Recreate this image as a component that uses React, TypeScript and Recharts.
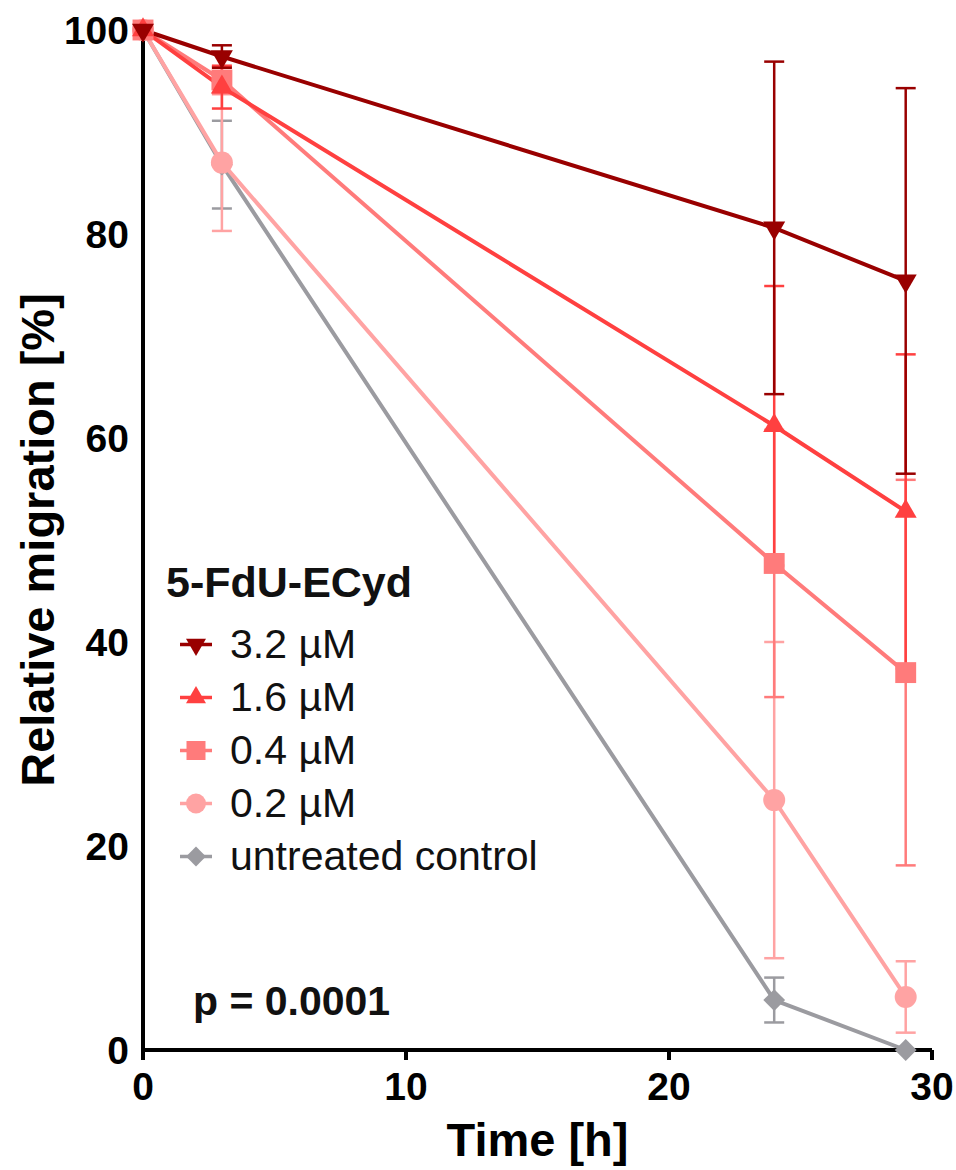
import {
  LineChart,
  Line,
  XAxis,
  YAxis,
  ErrorBar,
  Legend,
  Label,
  Symbols
} from "recharts";

const FONT = "'Liberation Sans', Arial, Helvetica, sans-serif";

// time points (h)
const times = [0, 3, 24, 29];

// relative migration [%] per concentration
const mean32 = [100, 97.4, 80.6, 75.4];
const err32 = [0, 1.1, 16.3, 18.9];

const mean16 = [100, 94.4, 61.2, 52.8];
const err16 = [0, 2.1, 13.7, 15.4];

const mean04 = [100, 95.1, 47.7, 37.0];
const err04 = [0, 1.3, 13.1, 18.9];

const mean02 = [100, 87.0, 24.5, 5.2];
const err02 = [0, 6.7, 15.5, 3.5];

const meanCtrl = [100, 86.8, 4.9, 0];
const errCtrl = [0, 4.3, 2.2, 0];

const xTicks = [0, 10, 20, 30];
const yTicks = [0, 20, 40, 60, 80, 100];

const series = [
  { key: "c32", label: "3.2 µM", color: "#990000", shape: "down", mean: mean32, err: err32 },
  { key: "c16", label: "1.6 µM", color: "#ff4040", shape: "up", mean: mean16, err: err16 },
  { key: "c04", label: "0.4 µM", color: "#ff7b7b", shape: "square", mean: mean04, err: err04 },
  { key: "c02", label: "0.2 µM", color: "#ffa3a3", shape: "circle", mean: mean02, err: err02 },
  { key: "ctrl", label: "untreated control", color: "#9b9ba0", shape: "diamond", mean: meanCtrl, err: errCtrl }
];

const data = times.map((t, i) => {
  const row: any = { t };
  series.forEach((s) => {
    row[s.key] = s.mean[i];
    row[s.key + "Err"] = s.err[i];
  });
  return row;
});

function Marker({ shape, cx, cy, color, size }: any) {
  if (shape === "down") {
    return (
      <g transform={`rotate(180 ${cx} ${cy})`}>
        <Symbols type="triangle" cx={cx} cy={cy} size={size} sizeType="diameter" fill={color} />
      </g>
    );
  }
  if (shape === "up") {
    return <Symbols type="triangle" cx={cx} cy={cy} size={size} sizeType="diameter" fill={color} />;
  }
  if (shape === "square") {
    return <Symbols type="square" cx={cx} cy={cy} size={size * 0.95} sizeType="diameter" fill={color} />;
  }
  if (shape === "diamond") {
    return (
      <g transform={`rotate(45 ${cx} ${cy})`}>
        <Symbols type="square" cx={cx} cy={cy} size={size * 0.7} sizeType="diameter" fill={color} />
      </g>
    );
  }
  return <Symbols type="circle" cx={cx} cy={cy} size={size} sizeType="diameter" fill={color} />;
}

const renderLegend = () => (
  <div style={{ fontFamily: FONT, color: "#111" }}>
    <div style={{ fontSize: 43, fontWeight: 700, lineHeight: "50px", marginBottom: 11 }}>
      5-FdU-ECyd
    </div>
    {series.map((s) => (
      <div key={s.key} style={{ display: "flex", alignItems: "center", height: 53 }}>
        <svg width={64} height={53}>
          <line x1={14} x2={46} y1={26.5} y2={26.5} stroke={s.color} strokeWidth={3.5} />
          <Marker shape={s.shape} cx={30} cy={26.5} color={s.color} size={20} />
        </svg>
        <span style={{ fontSize: 41, lineHeight: "53px" }}>{s.label}</span>
      </div>
    ))}
  </div>
);

export default function App() {
  return (
    <div style={{ position: "absolute", left: 0, top: 0, width: 956, height: 1170, background: "#fff" }}>
      <LineChart
        width={956}
        height={1170}
        data={data}
        margin={{ top: 30, right: 24, left: 0, bottom: 0 }}
      >
        <XAxis
          dataKey="t"
          type="number"
          domain={[0, 30]}
          ticks={xTicks}
          interval={0}
          height={120}
          tickSize={10}
          tickMargin={12}
          axisLine={{ stroke: "#000", strokeWidth: 4 }}
          tickLine={{ stroke: "#000", strokeWidth: 4 }}
          tick={{ fill: "#000", fontSize: 39, fontWeight: 700, fontFamily: FONT }}
        >
          <Label
            content={(p: any) => {
              const vb = p.viewBox;
              return (
                <text
                  x={vb.x + vb.width / 2}
                  y={1156}
                  textAnchor="middle"
                  fontSize={47}
                  fontWeight={700}
                  fontFamily={FONT}
                  fill="#000"
                >
                  Time [h]
                </text>
              );
            }}
          />
        </XAxis>
        <YAxis
          type="number"
          domain={[0, 100]}
          ticks={yTicks}
          interval={0}
          width={143}
          tickSize={0}
          tickMargin={14}
          tickLine={false}
          axisLine={{ stroke: "#000", strokeWidth: 4 }}
          tick={{ fill: "#000", fontSize: 39, fontWeight: 700, fontFamily: FONT }}
        >
          <Label
            content={(p: any) => {
              const vb = p.viewBox;
              const x = 54;
              const y = vb.y + vb.height / 2;
              return (
                <text
                  x={x}
                  y={y}
                  transform={`rotate(-90 ${x} ${y})`}
                  textAnchor="middle"
                  fontSize={47}
                  fontWeight={700}
                  fontFamily={FONT}
                  fill="#000"
                >
                  Relative migration [%]
                </text>
              );
            }}
          />
        </YAxis>
        <Legend
          layout="vertical"
          align="center"
          verticalAlign="middle"
          width={420}
          content={renderLegend}
          wrapperStyle={{ left: 166, top: 557, width: 420 }}
        />
        {[...series].reverse().map((s) => (
          <Line
            key={s.key}
            dataKey={s.key}
            type="linear"
            stroke={s.color}
            strokeWidth={4}
            isAnimationActive={false}
            activeDot={false}
            dot={(props: any) => (
              <Marker
                key={`${s.key}-${props.index}`}
                shape={s.shape}
                cx={props.cx}
                cy={props.cy}
                color={s.color}
                size={22}
              />
            )}
          >
            <ErrorBar
              dataKey={s.key + "Err"}
              direction="y"
              width={10}
              strokeWidth={2.5}
              stroke={s.color}
              isAnimationActive={false}
            />
          </Line>
        ))}
      </LineChart>
      <div
        style={{
          position: "absolute",
          left: 193,
          top: 981,
          fontFamily: FONT,
          fontSize: 41,
          fontWeight: 700,
          lineHeight: "40px",
          color: "#111"
        }}
      >
        p = 0.0001
      </div>
    </div>
  );
}
